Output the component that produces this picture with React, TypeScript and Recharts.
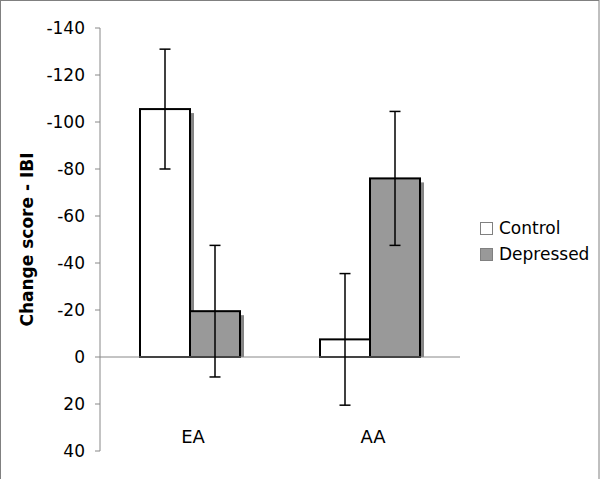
import React from 'react';
import { BarChart, Bar, XAxis, YAxis, ErrorBar, ReferenceLine, Customized } from 'recharts';

const categories = ['EA', 'AA'];
const controlValues = [-105.5, -7.5];
const depressedValues = [-19.5, -76];
const controlErrors = [25.5, 28];
const depressedErrors = [28, 28.5];
const yTicks = [-140, -120, -100, -80, -60, -40, -20, 0, 20, 40];
const seriesNames = ['Control', 'Depressed'];
const seriesFills = ['#ffffff', '#999999'];

const data = categories.map((c, i) => ({
  name: c,
  Control: controlValues[i],
  Depressed: depressedValues[i],
  controlErr: controlErrors[i],
  depressedErr: depressedErrors[i],
}));

const FONT = '"DejaVu Sans", Verdana, sans-serif';

const ShadowBar = (props: any) => {
  const { x, y, width, height, fill } = props;
  if (x == null || y == null) return null;
  const top = Math.min(y, y + height);
  const h = Math.abs(height);
  return (
    <g>
      <rect x={x + 4} y={top + 4} width={width} height={Math.max(h - 4, 0)} fill="#858585" />
      <rect x={x} y={top} width={width} height={h} fill={fill} stroke="#000" strokeWidth={2} />
    </g>
  );
};

const XTick = (props: any) => {
  const { x, y, payload } = props;
  return (
    <text x={x} y={y} dy={-16} dx={3} textAnchor="middle" fontFamily={FONT} fontSize={18} fill="#000">
      {payload.value}
    </text>
  );
};

const Frame = () => (
  <rect x={0.5} y={0.5} width={598.5} height={490} fill="none" stroke="#808080" strokeWidth={1} />
);

export default function App() {
  return (
    <div style={{ position: 'absolute', left: 0, top: 0, width: 600, height: 479, background: '#fff' }}>
      <BarChart
        width={600}
        height={479}
        data={data}
        margin={{ top: 28, right: 140, bottom: 0, left: 0 }}
        barGap={0}
        barSize={50}
      >
        <Customized component={Frame} />
        <XAxis
          dataKey="name"
          height={28}
          axisLine={false}
          tickLine={false}
          tick={<XTick />}
          interval={0}
        />
        <YAxis
          reversed
          domain={[-140, 40]}
          ticks={yTicks}
          interval={0}
          width={100}
          tickSize={5}
          tickMargin={10}
          axisLine={{ stroke: '#888888' }}
          tickLine={{ stroke: '#888888' }}
          tick={{ fontFamily: FONT, fontSize: 17, fill: '#000' }}
          label={{
            value: 'Change score - IBI',
            angle: -90,
            position: 'insideLeft',
            dx: 22,
            style: { fontFamily: FONT, fontSize: 17, fontWeight: 'bold', fill: '#000', textAnchor: 'middle' },
          }}
        />
        <ReferenceLine y={0} stroke="#888888" strokeWidth={1} />
        <Bar dataKey="Control" fill={seriesFills[0]} shape={ShadowBar} isAnimationActive={false}>
          <ErrorBar dataKey="controlErr" width={5.5} stroke="#000" strokeWidth={1.5} direction="y" />
        </Bar>
        <Bar dataKey="Depressed" fill={seriesFills[1]} shape={ShadowBar} isAnimationActive={false}>
          <ErrorBar dataKey="depressedErr" width={5.5} stroke="#000" strokeWidth={1.5} direction="y" />
        </Bar>
      </BarChart>
      <div style={{ position: 'absolute', left: 480, top: 215, fontFamily: FONT, fontSize: 17, color: '#000' }}>
        {seriesNames.map((name, i) => (
          <div key={name} style={{ display: 'flex', alignItems: 'center', height: 26 }}>
            <span
              style={{
                display: 'inline-block',
                width: 11,
                height: 11,
                background: seriesFills[i],
                border: '1px solid #808080',
                marginRight: 6,
              }}
            />
            <span>{name}</span>
          </div>
        ))}
      </div>
    </div>
  );
}
